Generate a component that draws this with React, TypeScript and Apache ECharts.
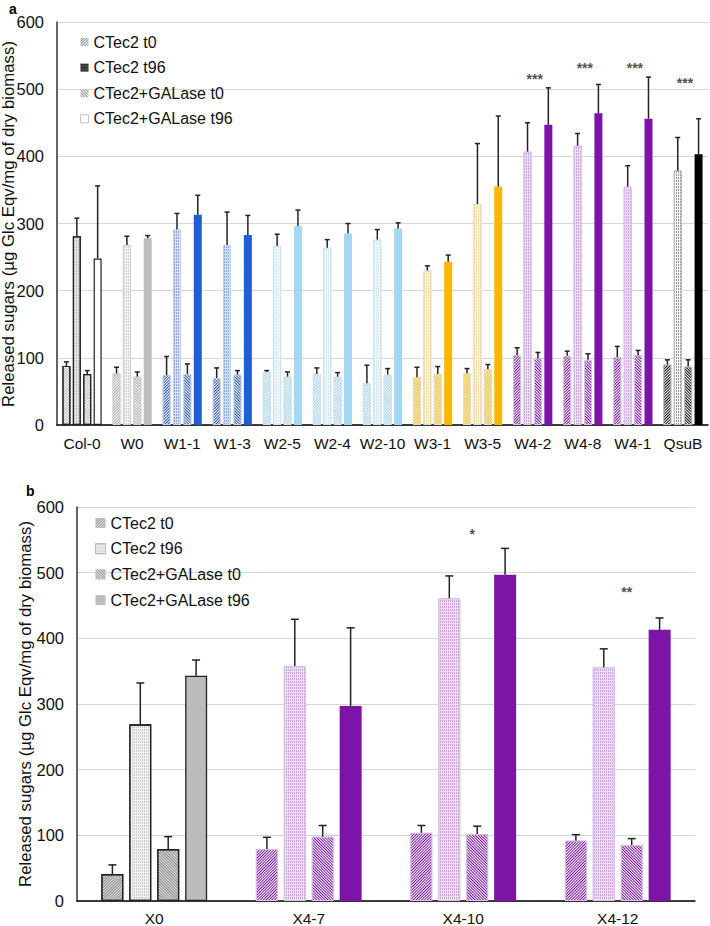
import React, { useEffect, useRef } from "react";
import * as echarts from "echarts";

// ---------- Panel a data ----------
const categoriesA = ["Col-0", "W0", "W1-1", "W1-3", "W2-5", "W2-4", "W2-10", "W3-1", "W3-5", "W4-2", "W4-8", "W4-1", "QsuB"];
const t0A = [88, 77, 74, 70, 79, 76, 62, 71, 77, 104, 103, 101, 90];
const t0ErrA = [6, 9, 28, 15, 2, 9, 27, 15, 7, 11, 7, 16, 7];
const t96A = [281, 268, 291, 268, 267, 264, 276, 230, 329, 407, 416, 355, 379];
const t96ErrA = [27, 13, 24, 49, 17, 12, 15, 7, 90, 43, 18, 31, 49];
const galT0A = [76, 72, 76, 75, 72, 72, 75, 76, 83, 99, 97, 104, 87];
const galT0ErrA = [5, 7, 15, 6, 7, 6, 9, 11, 7, 9, 9, 7, 10];
const galT96A = [248, 278, 313, 283, 296, 285, 292, 243, 355, 447, 464, 456, 403];
const galT96ErrA = [108, 4, 29, 29, 24, 15, 9, 10, 105, 55, 43, 62, 53];
const sigA = ["", "", "", "", "", "", "", "", "", "***", "***", "***", "***"];
const sigPosA = [0, 0, 0, 0, 0, 0, 0, 0, 0, 520, 536, 536, 514];

// ---------- Panel b data ----------
const categoriesB = ["X0", "X4-7", "X4-10", "X4-12"];
const t0B = [41, 79, 104, 92];
const t0ErrB = [14, 18, 11, 9];
const t96B = [269, 358, 461, 356];
const t96ErrB = [63, 71, 34, 28];
const galT0B = [79, 98, 102, 85];
const galT0ErrB = [19, 17, 12, 10];
const galT96B = [343, 297, 497, 413];
const galT96ErrB = [24, 119, 40, 18];
const sigB = ["", "", "*", "**"];
const sigPosB = [0, 0, 564, 475];

const seriesNames = ["CTec2 t0", "CTec2 t96", "CTec2+GALase t0", "CTec2+GALase t96"];
const yTicks = [0, 100, 200, 300, 400, 500, 600];
const yTitle = "Released sugars (µg Glc Eqv/mg of dry biomass)";

// ---------- styles ----------
type Pal = { solid: string; solidBorder: string; stripe: string; stripeBg: string; light: string; lightPat: string; border: string; bw: number };
const palettes: Record<string, Pal> = {
  col0: { solid: "#ffffff", solidBorder: "#222", stripe: "#b5b5b5", stripeBg: "#ffffff", light: "#e4e4e4", lightPat: "#c4c4c4", border: "#222", bw: 1.2 },
  gray: { solid: "#bdbdbd", solidBorder: "#bdbdbd", stripe: "#a8a8a8", stripeBg: "#ffffff", light: "#f3f3f3", lightPat: "#d2d2d2", border: "#d4d4d4", bw: 1 },
  blue: { solid: "#1f5fd3", solidBorder: "#1f5fd3", stripe: "#2553ae", stripeBg: "#ffffff", light: "#d6e1f4", lightPat: "#8aa6dc", border: "#c6d2e8", bw: 1 },
  lightblue: { solid: "#a4d7f3", solidBorder: "#a4d7f3", stripe: "#9fd0ec", stripeBg: "#ffffff", light: "#f1f8fd", lightPat: "#cfe8f6", border: "#d2e2ec", bw: 1 },
  gold: { solid: "#f8b800", solidBorder: "#f8b800", stripe: "#f2bd45", stripeBg: "#fdf0c6", light: "#fff3d8", lightPat: "#f7dca0", border: "#e6dcc4", bw: 1 },
  purple: { solid: "#7c14a7", solidBorder: "#7c14a7", stripe: "#7c14a7", stripeBg: "#ffffff", light: "#f0e0f7", lightPat: "#c9a2dc", border: "#d8c0e6", bw: 1 },
  black: { solid: "#000000", solidBorder: "#000000", stripe: "#111111", stripeBg: "#ffffff", light: "#fafafa", lightPat: "#999999", border: "#bcbcbc", bw: 1 },
  x0: { solid: "#bcbcbc", solidBorder: "#222", stripe: "#8a8a8a", stripeBg: "#e2e2e2", light: "#f1f1f1", lightPat: "#cccccc", border: "#222", bw: 1.3 },
};
const groupStyleA = ["col0", "gray", "blue", "blue", "lightblue", "lightblue", "lightblue", "gold", "gold", "purple", "purple", "purple", "black"];
const groupStyleB = ["x0", "purple", "purple", "purple"];

// dir -1 -> "////", dir +1 -> "\\\\"
const stripe = (color: string, dir: number) => ({
  symbol: "rect", symbolSize: 1, dashArrayX: [1, 0], dashArrayY: [1, 1], rotation: (dir * Math.PI) / 4, color,
});
const dots = (color: string) => ({
  symbol: "rect", symbolSize: 1, dashArrayX: [1, 1], dashArrayY: [2, 1], color,
});

function styleFor(key: string, k: number) {
  const p = palettes[key];
  if (k === 0) return { color: p.stripeBg, borderColor: p.border, borderWidth: p.bw, decal: stripe(p.stripe, -1) };
  if (k === 2) return { color: p.stripeBg, borderColor: p.border, borderWidth: p.bw, decal: stripe(p.stripe, 1) };
  if (k === 1) return { color: p.light, borderColor: p.border, borderWidth: p.bw, decal: dots(p.lightPat) };
  return { color: p.solid, borderColor: p.solidBorder, borderWidth: key === "col0" || key === "x0" ? p.bw : 0, decal: "none" };
}

const FONT = "Liberation Sans, Arial, Helvetica, sans-serif";

function errSeries(values: number[], errs: number[], k: number, step: number, cap: number, axisIdx: number) {
  return {
    type: "custom",
    xAxisIndex: axisIdx,
    yAxisIndex: axisIdx,
    z: 5,
    silent: true,
    encode: { x: 0, y: 1 },
    data: values.map((v, i) => [i, v, errs[i]]),
    renderItem: (params: any, api: any) => {
      const c = api.value(0);
      const v = api.value(1);
      const e = api.value(2);
      const base = api.coord([c, v]);
      const top = api.coord([c, v + e]);
      const x = base[0] + (k - 1.5) * step;
      const st = { stroke: "#222", lineWidth: 1.5 };
      return {
        type: "group",
        children: [
          { type: "line", shape: { x1: x, y1: base[1], x2: x, y2: top[1] }, style: st },
          { type: "line", shape: { x1: x - cap / 2, y1: top[1], x2: x + cap / 2, y2: top[1] }, style: st },
        ],
      };
    },
  };
}

export default function App() {
  const ref = useRef<HTMLDivElement>(null);
  useEffect(() => {
    if (!ref.current) return;
    const chart = echarts.init(ref.current, null, { renderer: "svg" });
    const valsA = [t0A, t96A, galT0A, galT96A];
    const errsA = [t0ErrA, t96ErrA, galT0ErrA, galT96ErrA];
    const valsB = [t0B, t96B, galT0B, galT96B];
    const errsB = [t0ErrB, t96ErrB, galT0ErrB, galT96ErrB];

    const barsA = valsA.map((vals, k) => ({
      type: "bar",
      name: seriesNames[k],
      xAxisIndex: 0,
      yAxisIndex: 0,
      barWidth: 8,
      barGap: "30%",
      itemStyle: styleFor("gray", k),
      data: vals.map((v, i) => ({ value: v, itemStyle: styleFor(groupStyleA[i], k) })),
    }));
    const barsB = valsB.map((vals, k) => ({
      type: "bar",
      name: seriesNames[k],
      xAxisIndex: 1,
      yAxisIndex: 1,
      barWidth: 22,
      barGap: "27%",
      itemStyle: styleFor("x0", k),
      data: vals.map((v, i) => ({ value: v, itemStyle: styleFor(groupStyleB[i], k) })),
    }));
    const errA = valsA.map((vals, k) => errSeries(vals, errsA[k], k, 10.4, 5, 0));
    const errB = valsB.map((vals, k) => errSeries(vals, errsB[k], k, 27.9, 8, 1));

    const sigSeries = (labels: string[], pos: number[], axisIdx: number, dx: number) => ({
      type: "scatter",
      xAxisIndex: axisIdx,
      yAxisIndex: axisIdx,
      symbolSize: 1,
      itemStyle: { color: "rgba(0,0,0,0)" },
      silent: true,
      z: 6,
      data: labels
        .map((s, i) => ({ value: [i, pos[i]], label: { formatter: s } }))
        .filter((d, i) => labels[i] !== ""),
      label: { show: true, position: "inside", offset: [dx, 3], fontSize: 14, fontWeight: "bold", color: "#222", fontFamily: FONT },
    });

    const yAxisCommon = {
      type: "value",
      min: 0,
      max: 600,
      interval: 100,
      axisLine: { show: true, lineStyle: { color: "#333", width: 1.5 } },
      axisTick: { show: false },
      axisLabel: { fontSize: 16.5, color: "#111", fontFamily: FONT, margin: 13, formatter: (v: number) => (yTicks.includes(v) ? String(v) : "") },
      splitLine: { show: true, lineStyle: { color: "#d6d6d6", width: 1 } },
    };

    const legendItem = (fill: string, decal: any, border?: string) => ({
      color: fill,
      decal,
      borderColor: border || "transparent",
      borderWidth: border ? 1 : 0,
    });

    const legendText = { fontSize: 16, color: "#111", lineHeight: 18, fontFamily: FONT };
    const titleStyle = { text: yTitle, fontSize: 16.8, fill: "#111", fontFamily: FONT, align: "center", verticalAlign: "middle" };

    const option: any = {
      animation: false,
      aria: { enabled: true, decal: { show: true } },
      textStyle: { fontFamily: FONT },
      grid: [
        { left: 57, top: 22, width: 651, height: 403 },
        { left: 77, top: 507, width: 618, height: 395 },
      ],
      legend: [
        {
          orient: "vertical",
          left: 80,
          top: 33,
          padding: 0,
          itemWidth: 8,
          itemHeight: 8,
          itemGap: 7.6,
          icon: "rect",
          selectedMode: false,
          textStyle: legendText,
          data: [
            { name: seriesNames[0], itemStyle: legendItem("#ffffff", stripe("#888", -1)) },
            { name: seriesNames[1], itemStyle: legendItem("#555555", dots("#111")) },
            { name: seriesNames[2], itemStyle: legendItem("#ffffff", stripe("#888", 1)) },
            { name: seriesNames[3], itemStyle: legendItem("#ffffff", "none", "#c4c4c4") },
          ],
        },
        {
          orient: "vertical",
          left: 95,
          top: 514,
          padding: 0,
          itemWidth: 10,
          itemHeight: 10,
          itemGap: 7.7,
          icon: "rect",
          selectedMode: false,
          textStyle: legendText,
          data: [
            { name: seriesNames[0], itemStyle: legendItem("#e0e0e0", stripe("#9a9a9a", -1)) },
            { name: seriesNames[1], itemStyle: legendItem("#f2f2f2", dots("#c4c4c4"), "#bbbbbb") },
            { name: seriesNames[2], itemStyle: legendItem("#e0e0e0", stripe("#9a9a9a", 1)) },
            { name: seriesNames[3], itemStyle: legendItem("#bdbdbd", "none") },
          ],
        },
      ],
      xAxis: [
        {
          type: "category",
          gridIndex: 0,
          data: categoriesA,
          axisLine: { lineStyle: { color: "#000", width: 1.5 } },
          axisTick: { show: false },
          axisLabel: { fontSize: 15.5, color: "#111", fontFamily: FONT, margin: 10, interval: 0 },
        },
        {
          type: "category",
          gridIndex: 1,
          data: categoriesB,
          axisLine: { lineStyle: { color: "#000", width: 1.5 } },
          axisTick: { show: false },
          axisLabel: { fontSize: 15.5, color: "#111", fontFamily: FONT, margin: 9, interval: 0 },
        },
      ],
      yAxis: [
        { ...yAxisCommon, gridIndex: 0 },
        { ...yAxisCommon, gridIndex: 1 },
      ],
      graphic: [
        { type: "text", left: 9, top: 2, style: { text: "a", fontSize: 14, fontWeight: "bold", fill: "#000", fontFamily: FONT } },
        { type: "text", left: 26, top: 484, style: { text: "b", fontSize: 14, fontWeight: "bold", fill: "#000", fontFamily: FONT } },
        { type: "text", x: 8, y: 224, rotation: Math.PI / 2, style: titleStyle },
        { type: "text", x: 25, y: 704, rotation: Math.PI / 2, style: titleStyle },
      ],
      series: [
        ...barsA,
        ...barsB,
        ...errA,
        ...errB,
        sigSeries(sigA, sigPosA, 0, 2),
        sigSeries(sigB, sigPosB, 1, 9),
      ],
    };
    chart.setOption(option);
    return () => chart.dispose();
  }, []);
  return <div ref={ref} style={{ position: "fixed", left: 0, top: 0, width: 710, height: 926, background: "#fff" }} />;
}
